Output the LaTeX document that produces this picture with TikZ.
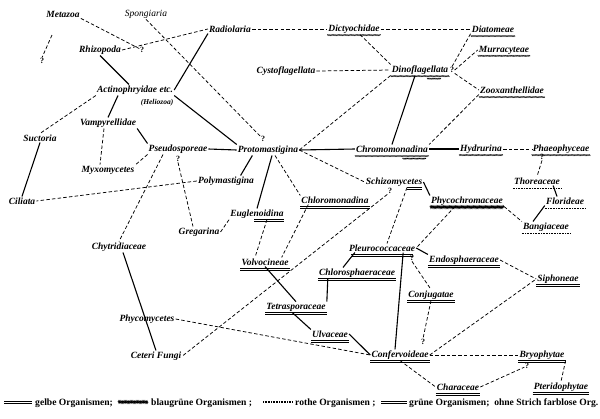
\documentclass[tikz,border=0pt]{standalone}
\usepackage{fontspec}
\usetikzlibrary{calc,decorations.pathmorphing}
\newfontfamily\lblfam{Liberation Serif}
\newcommand\lblfont{\lblfam\fontsize{9.5}{10}\selectfont\bfseries\itshape}
\newcommand\legfont{\lblfam\fontsize{9.6}{10}\selectfont\bfseries}
\newcommand\myul[4][yu]{\draw[#1] ($(#2.base west)!#3!(#2.base east)+(0,3.8)$) -- ($(#2.base west)!#4!(#2.base east)+(0,3.8)$);}
\newcommand\mygu[3]{%
 \draw[gl] ($(#1.base west)!#2!(#1.base east)+(0,3.1)$) -- ($(#1.base west)!#3!(#1.base east)+(0,3.1)$);
 \draw[gl] ($(#1.base west)!#2!(#1.base east)+(0,5.0)$) -- ($(#1.base west)!#3!(#1.base east)+(0,5.0)$);}
\tikzset{
 lbl/.style={font=\lblfont, inner sep=1pt},
 qm/.style={font=\lblfam\fontsize{8}{8}\selectfont\bfseries, inner sep=0.5pt},
 sol/.style={line width=1.1pt},
 dsh/.style={line width=0.75pt, dash pattern=on 3.5pt off 2.2pt},
 gl/.style={line width=0.55pt},
 yu/.style={line width=0.35pt, decorate, decoration={zigzag, amplitude=0.6pt, segment length=1.2pt}},
 bu/.style={line width=0.7pt, decorate, decoration={zigzag, amplitude=1pt, segment length=1.2pt}},
 ru/.style={line width=1.1pt, dash pattern=on 0.8pt off 0.8pt},
}
\begin{document}
\begin{tikzpicture}[x=1pt,y=-1pt]
\useasboundingbox (0,0) rectangle (600,418);
% nodes
\node[lbl] (metazoa) at (63,14) {Metazoa};
\node[lbl,font=\lblfam\fontsize{9.5}{10}\selectfont\itshape] (spong) at (146,14) {Spongiaria};
\node[qm] (q0) at (42,61) {?};
\coordinate (c0) at (52,35);
\node[lbl] (rhizo) at (100,50) {Rhizopoda};
\node[qm] (q1) at (142,50) {?};
\node[lbl] (radio) at (230,29) {Radiolaria};
\node[lbl] (dicty) at (354,29) {Dictyochidae};
\node[lbl] (diatom) at (493,29) {Diatomeae};
\node[lbl] (murra) at (504,50) {Murracyteae};
\node[lbl] (cysto) at (286,71) {Cystoflagellata};
\node[lbl] (dino) at (420,70) {Dinoflagellata};
\node[qm] (q2) at (452,70) {?};
\node[lbl] (zoox) at (512,90) {Zooxanthellidae};
\node[lbl] (actino) at (135,90) {Actinophryidae etc.};
\node[lbl,font=\lblfam\fontsize{7.5}{8}\selectfont\bfseries\itshape] (helio) at (157,103) {(Heliozoa)};
\node[qm] (q3) at (263,139) {?};
\node[lbl] (suct) at (40,138) {Suctoria};
\node[lbl] (vamp) at (108,123) {Vampyrellidae};
\node[lbl] (pseudo) at (178,149) {Pseudosporeae};
\node[qm] (q4) at (178,159) {?};
\node[lbl] (proto) at (268,150) {Protomastigina};
\node[lbl] (chromo) at (392,149) {Chromomonadina};
\node[lbl] (hydr) at (481,149) {Hydrurina};
\node[lbl] (phaeo) at (561,149) {Phaeophyceae};
\node[qm] (q5) at (542,157) {?};
\node[lbl] (myxo) at (108,170) {Myxomycetes};
\node[lbl] (poly) at (226,181) {Polymastigina};
\node[lbl] (schizo) at (394,182) {Schizomycetes};
\node[qm] (q6) at (390,191) {?};
\node[lbl] (thor) at (537,181) {Thoreaceae};
\node[lbl] (ciliata) at (22,201) {Ciliata};
\node[lbl] (phyco) at (467,201) {Phycochromaceae};
\node[lbl] (flor) at (565,201) {Florideae};
\node[lbl] (chloromon) at (335,200) {Chloromonadina};
\node[lbl] (eugl) at (257,214) {Euglenoidina};
\node[lbl] (bang) at (546,227) {Bangiaceae};
\node[lbl] (greg) at (199,232) {Gregarina};
\node[lbl] (chytr) at (119,247) {Chytridiaceae};
\node[lbl] (pleuro) at (382,248) {Pleurococcaceae};
\node[qm] (q7) at (412,258) {?};
\node[lbl] (endo) at (464,260) {Endosphaeraceae};
\node[lbl] (volvo) at (265,262) {Volvocineae};
\node[lbl] (chloros) at (357,273) {Chlorosphaeraceae};
\node[lbl] (siph) at (558,279) {Siphoneae};
\node[lbl] (conj) at (431,295) {Conjugatae};
\node[lbl] (tetra) at (296,307) {Tetrasporaceae};
\node[lbl] (phycom) at (147,319) {Phycomycetes};
\node[lbl] (ulva) at (330,334) {Ulvaceae};
\node[qm] (q8) at (423,342) {?};
\node[lbl] (conf) at (400,355) {Confervoideae};
\node[lbl] (bryo) at (542,355) {Bryophytae};
\node[qm] (q9) at (527,366) {?};
\node[lbl] (ceteri) at (156,356) {Ceteri Fungi};
\node[lbl] (chara) at (458,387) {Characeae};
\node[lbl] (pterid) at (561,387) {Pteridophytae};
% dashed connectors
\draw[dsh] (metazoa.south east) -- (q1);
\draw[dsh] (c0) -- (q0.north);
\draw[dsh] (rhizo.east) -- (radio.west);
\draw[dsh] (spong.south) -- (q3);
\draw[dsh] (radio.east) -- (dicty.west);
\draw[dsh] (dicty.east) -- (diatom.west);
\draw[dsh] (q2.north) -- (diatom.south west);
\draw[dsh] (q2.east) -- (murra.west);
\draw[dsh] (q2.south east) -- (zoox.west);
\draw[dsh] ($(dicty.south)+(6,0)$) -- (dino.north west);
\draw[dsh] (cysto.east) -- (dino.west);
\draw[dsh] (dino.south west) -- (proto.east);
\draw[dsh] (zoox.south west) -- (chromo.north east);
\draw[dsh] (hydr.east) -- (phaeo.west);
\draw[dsh] (q5.south) -- (thor.north);
\draw[dsh] (phyco.south east) -- (bang.north west);
\draw[dsh] (proto.east) -- (schizo.west);
\draw[dsh] (poly.west) -- (ciliata.east);
\draw[dsh] ($(proto.south)+(7,0)$) -- (chloromon.north west);
\draw[dsh] (actino.south west) -- (suct.north);
\draw[dsh] ($(vamp.south)+(-4,0)$) -- ($(myxo.north)+(-8,0)$);
\draw[dsh] (pseudo.south west) -- (myxo.north east);
\draw[dsh] ($(pseudo.south)+(-15,0)$) -- (chytr.north);
\draw[dsh] (q4.south) -- ($(greg.north)+(-6,0)$);
\draw[dsh] (greg.east) -- (eugl.south west);
\draw[dsh] ($(eugl.south)+(10,0)$) -- ($(volvo.north)+(-10,0)$);
\draw[dsh] ($(chloromon.south west)+(8,0)$) -- ($(volvo.north east)+(-8,0)$);
\draw[dsh] (q7.south) -- (conj.north);
\draw[dsh] (conj.south) -- (q8.north);
\draw[dsh] (conf.east) -- (siph.west);
\draw[dsh] (endo.east) -- (siph.west);
\draw[dsh] (conf.east) -- (bryo.west);
\draw[dsh] (conf.south) -- (chara.west);
\draw[dsh] (chara.east) -- (q9);
\draw[dsh] (bryo.south east) -- (pterid.north);
\draw[dsh] ($(phyco.south west)+(25,0)$) -- (pleuro.east);
\draw[dsh] ($(schizo.south)+(13,0)$) -- ($(pleuro.north)+(5,0)$);
\draw[dsh] (q6.south west) -- (ceteri.east);
\draw[dsh] (phycom.east) -- (conf.west);
% solid connectors
\draw[sol] (radio.south west) -- (actino.east);
\draw[sol] (rhizo.south) -- ($(actino.north)+(-6,0)$);
\draw[sol] ($(dino.south)+(-5,0)$) -- (chromo.north);
\draw[sol] (chromo.east) -- (hydr.west);
\draw[sol] ($(thor.south east)+(-8,0)$) -- ($(flor.north)+(-8,0)$);
\draw[sol] (flor.south west) -- ($(bang.north)+(-13,0)$);
\draw[sol] (schizo.east) -- (phyco.north west);
\draw[sol] (pseudo.east) -- (proto.west);
\draw[sol] ($(proto.south west)!0.25!(proto.south east)$) -- ($(poly.north)!0.5!(poly.north east)$);
\draw[sol] ($(proto.south)+(4,0)$) -- (eugl.north);
\draw[sol] (proto.east) -- (chromo.west);
\draw[sol] (actino.south east) -- (proto.north west);
\draw[sol] (suct.south) -- (ciliata.north);
\draw[sol] ($(actino.south)+(-17,0)$) -- (vamp.north);
\draw[sol] (vamp.south east) -- (pseudo.north west);
\draw[sol] (volvo.south) -- (tetra.north);
\draw[sol] (tetra.north east) -- ($(chloros.south west)+(10,0)$);
\draw[sol] ($(chloros.north)+(-14,0)$) -- ($(pleuro.south west)+(7,0)$);
\draw[sol] ($(tetra.south)+(-4,0)$) -- (ulva.north west);
\draw[sol] (ulva.east) -- (conf.west);
\draw[sol] ($(pleuro.south east)+(-13,0)$) -- ($(conf.north)+(-5,0)$);
\draw[sol] (pleuro.east) -- (endo.north west);
\draw[sol] ($(chytr.south)+(4,0)$) -- (ceteri.north);
% underlines
\myul{dicty}{0}{1}
\myul{diatom}{0}{1}
\myul{murra}{0}{1}
\myul{dino}{0}{1}
\draw[yu] ($(dino.base west)!0.62!(dino.base east)+(0,6.4)$) -- ($(dino.base west)!0.86!(dino.base east)+(0,6.4)$);
\myul{zoox}{0}{1}
\myul{chromo}{0}{1}
\draw[yu] ($(chromo.base west)!0.64!(chromo.base east)+(0,6.4)$) -- ($(chromo.base west)!0.96!(chromo.base east)+(0,6.4)$);
\myul{hydr}{0}{1}
\myul{phaeo}{0}{1}
\myul[ru]{thor}{0}{1}
\myul[ru]{flor}{0}{1}
\myul[ru]{bang}{0}{1}
\myul[bu]{phyco}{0}{1}
\mygu{schizo}{0.72}{0.98}
\mygu{chloromon}{0}{1}
\mygu{eugl}{0.45}{0.98}
\mygu{volvo}{0}{1}
\mygu{tetra}{0}{1}
\mygu{chloros}{0}{1}
\mygu{pleuro}{0.05}{0.95}
\mygu{endo}{0}{1}
\mygu{conj}{0}{1}
\mygu{ulva}{0}{1}
\mygu{conf}{0}{1}
\mygu{siph}{0}{1}
\mygu{chara}{0}{1}
\mygu{bryo}{0}{1}
\mygu{pterid}{0}{1}
% legend
\coordinate (ya) at (4,401); \coordinate (yb) at (32,401);
\coordinate (ba) at (118,402); \coordinate (bb) at (148,402);
\coordinate (ra) at (263,402); \coordinate (rb) at (292,402);
\coordinate (ga) at (381,401); \coordinate (gb) at (407,401);
\draw[gl] (ya) -- (yb);
\draw[gl] ($(ya)+(0,2)$) -- ($(yb)+(0,2)$);
\draw[bu] (ba) -- (bb);
\draw[ru] (ra) -- (rb);
\draw[gl,line width=0.7pt] (ga) -- (gb);
\draw[gl,line width=0.7pt] ($(ga)+(0,2)$) -- ($(gb)+(0,2)$);
\node[font=\legfont, anchor=west, inner sep=0pt] (t1) at (35,403) {gelbe Organismen;};
\node[font=\legfont, anchor=west, inner sep=0pt] (t2) at (151,403) {blaugrüne Organismen ;};
\node[font=\legfont, anchor=west, inner sep=0pt] (t3) at (295,403) {rothe Organismen ;};
\node[font=\legfont, anchor=west, inner sep=0pt] (t4) at (409,403) {grüne Organismen;\ \ ohne Strich farblose Org.};
\end{tikzpicture}
\end{document}
